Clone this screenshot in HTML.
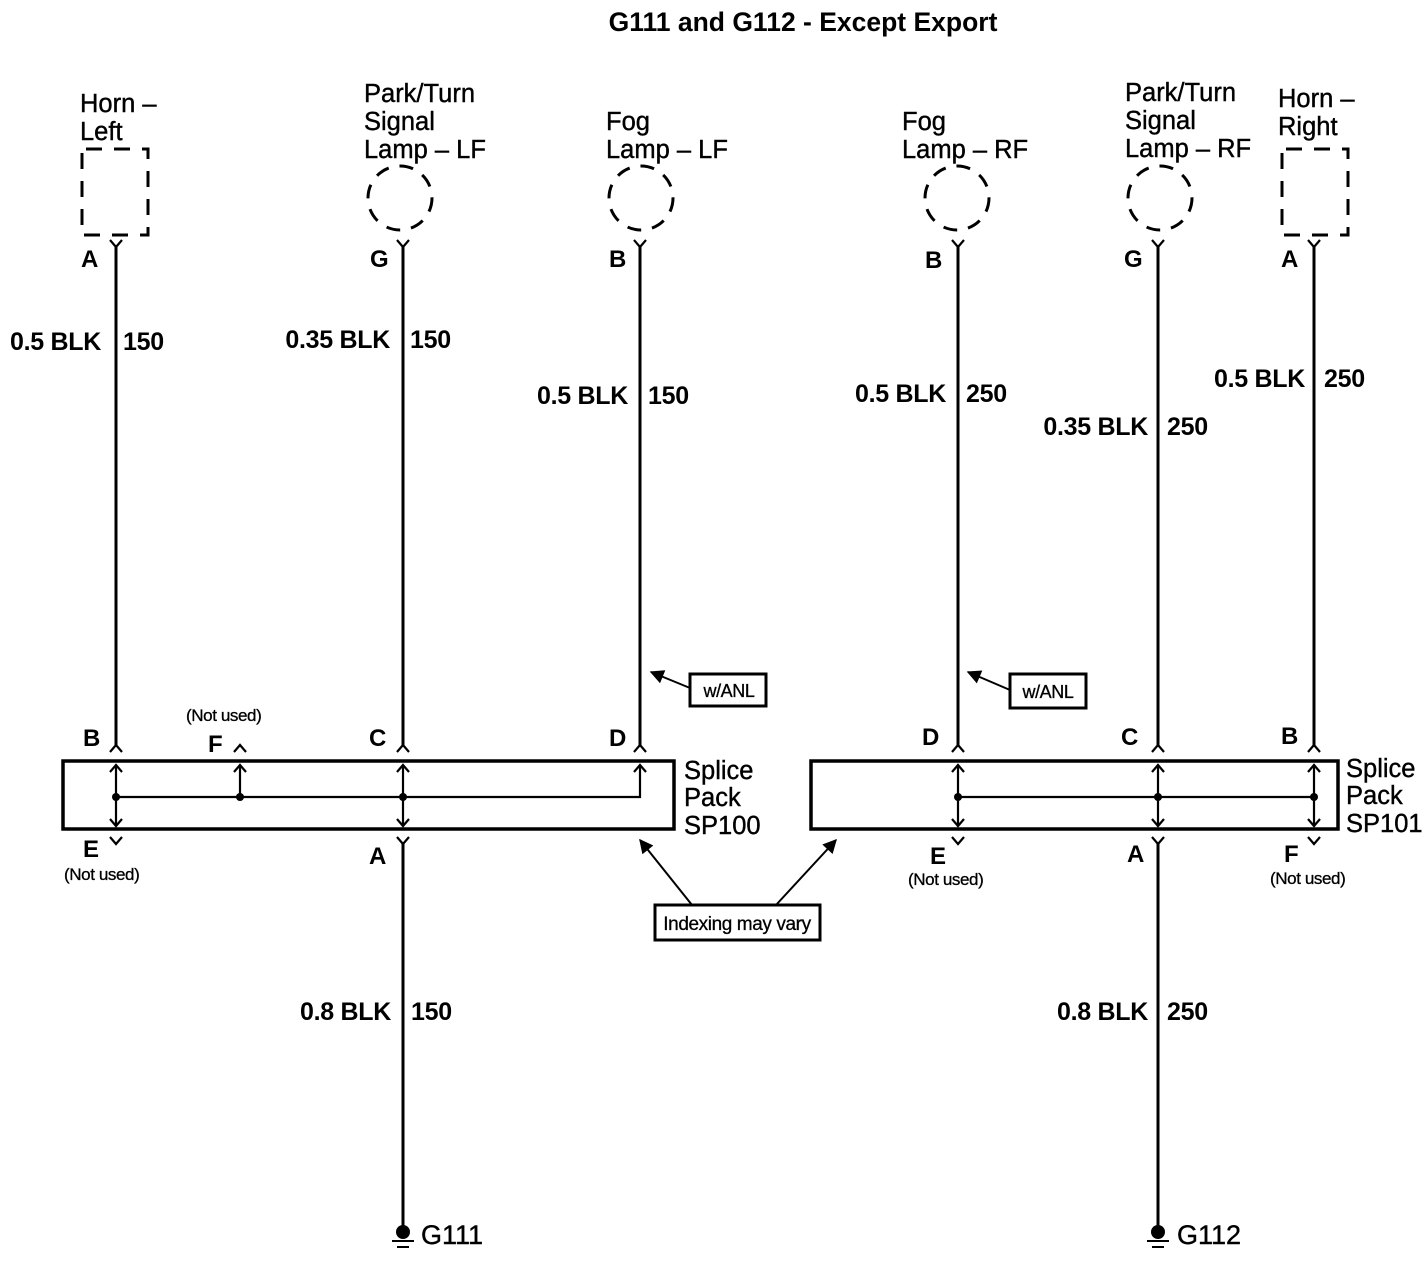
<!DOCTYPE html>
<html><head><meta charset="utf-8"><style>
html,body{margin:0;padding:0;background:#fff}
svg{display:block}
text{font-family:"Liberation Sans",Arial,sans-serif;fill:#000}
.t{font-size:25.5px;stroke:#000;stroke-width:0.4}
.w{font-size:25px;font-weight:bold;letter-spacing:-0.3px}
.p{font-size:24px;font-weight:bold}
.s{font-size:17px;letter-spacing:-0.4px;stroke:#000;stroke-width:0.3}
</style></head><body>
<svg width="1422" height="1280" viewBox="0 0 1422 1280" xmlns="http://www.w3.org/2000/svg">
<defs>
<marker id="big" viewBox="0 0 10 10" refX="9" refY="5" markerWidth="18" markerHeight="14" markerUnits="userSpaceOnUse" orient="auto"><path d="M0,0 L10,5 L0,10 z" fill="#000"/></marker>
</defs>
<text x="803" y="31" text-anchor="middle" style="font-size:26.5px;font-weight:bold">G111 and G112 - Except Export</text>

<g class="t">
<text x="80" y="112">Horn –</text><text x="80" y="140">Left</text>
<text x="364" y="102">Park/Turn</text><text x="364" y="130">Signal</text><text x="364" y="158">Lamp – LF</text>
<text x="606" y="130">Fog</text><text x="606" y="158">Lamp – LF</text>
<text x="902" y="130">Fog</text><text x="902" y="158">Lamp – RF</text>
<text x="1125" y="101">Park/Turn</text><text x="1125" y="129">Signal</text><text x="1125" y="157">Lamp – RF</text>
<text x="1278" y="107">Horn –</text><text x="1278" y="135">Right</text>
<text x="684" y="779">Splice</text><text x="684" y="806">Pack</text><text x="684" y="834">SP100</text>
<text x="1346" y="777">Splice</text><text x="1346" y="804">Pack</text><text x="1346" y="832">SP101</text>
<text x="421" y="1244" style="font-size:27px">G111</text><text x="1177" y="1244" style="font-size:27px">G112</text>
</g>

<g fill="none" stroke="#000" stroke-width="3" stroke-dasharray="16,12">
<rect x="82" y="149" width="66" height="86" stroke-dashoffset="-4"/>
<rect x="1282" y="149" width="66" height="86" stroke-dashoffset="-4"/>
<circle cx="400" cy="198" r="32" stroke-dasharray="14,11"/>
<circle cx="641" cy="198" r="32" stroke-dasharray="14,11"/>
<circle cx="957" cy="198" r="32" stroke-dasharray="14,11"/>
<circle cx="1160" cy="198" r="32" stroke-dasharray="14,11"/>
</g>

<g stroke="#000" stroke-width="3" fill="none">
<line x1="116" y1="246" x2="116" y2="746"/>
<line x1="403" y1="246" x2="403" y2="746"/>
<line x1="640" y1="246" x2="640" y2="746"/>
<line x1="958" y1="246" x2="958" y2="746"/>
<line x1="1158" y1="246" x2="1158" y2="746"/>
<line x1="1314" y1="246" x2="1314" y2="746"/>
<line x1="403" y1="842" x2="403" y2="1228"/>
<line x1="1158" y1="842" x2="1158" y2="1228"/>
<rect x="63" y="761" width="611" height="68" stroke-width="3.5"/>
<rect x="811" y="761" width="527" height="68" stroke-width="3.5"/>
</g>
<g stroke="#000" stroke-width="2.2" fill="none">
<path d="M110,240 L116,247 L122,240 M397,240 L403,247 L409,240 M634,240 L640,247 L646,240 M952,240 L958,247 L964,240 M1152,240 L1158,247 L1164,240 M1308,240 L1314,247 L1320,240"/>
<path d="M110,752 L116,745 L122,752 M234,752 L240,745 L246,752 M397,752 L403,745 L409,752 M634,752 L640,745 L646,752 M952,752 L958,745 L964,752 M1152,752 L1158,745 L1164,752 M1308,752 L1314,745 L1320,752"/>
<path d="M110,837 L116,844 L122,837 M397,837 L403,844 L409,837 M952,837 L958,844 L964,837 M1152,837 L1158,844 L1164,837 M1308,837 L1314,844 L1320,837"/>
<line x1="116" y1="766" x2="116" y2="826"/>
<line x1="240" y1="766" x2="240" y2="797"/>
<line x1="403" y1="766" x2="403" y2="826"/>
<path d="M116,797 L640,797 L640,766"/>
<line x1="958" y1="766" x2="958" y2="826"/>
<line x1="1158" y1="766" x2="1158" y2="826"/>
<line x1="1314" y1="766" x2="1314" y2="826"/>
<line x1="958" y1="797" x2="1314" y2="797"/>
<path d="M110,772 L116,765 L122,772 M234,772 L240,765 L246,772 M397,772 L403,765 L409,772 M634,772 L640,765 L646,772 M952,772 L958,765 L964,772 M1152,772 L1158,765 L1164,772 M1308,772 L1314,765 L1320,772"/>
<path d="M110,819 L116,826 L122,819 M397,819 L403,826 L409,819 M952,819 L958,826 L964,819 M1152,819 L1158,826 L1164,819 M1308,819 L1314,826 L1320,819"/>
</g>
<g fill="#000">
<circle cx="116" cy="797" r="4"/><circle cx="240" cy="797" r="4"/><circle cx="403" cy="797" r="4"/>
<circle cx="958" cy="797" r="4"/><circle cx="1158" cy="797" r="4"/><circle cx="1314" cy="797" r="4"/>
<circle cx="403" cy="1232" r="7"/><circle cx="1158" cy="1232" r="7"/>
</g>
<g stroke="#000" stroke-width="2">
<line x1="392" y1="1241" x2="414" y2="1241"/><line x1="397" y1="1247" x2="409" y2="1247"/>
<line x1="1147" y1="1241" x2="1169" y2="1241"/><line x1="1152" y1="1247" x2="1164" y2="1247"/>
</g>

<g stroke="#000" stroke-width="3" fill="#fff">
<rect x="690" y="674" width="76" height="32"/>
<rect x="1010" y="674" width="76" height="34"/>
<rect x="655" y="905" width="165" height="35"/>
</g>
<g stroke="#000" stroke-width="2">
<line x1="690" y1="688" x2="651" y2="672" marker-end="url(#big)"/>
<line x1="1010" y1="690" x2="968" y2="672" marker-end="url(#big)"/>
<line x1="692" y1="905" x2="640" y2="840" marker-end="url(#big)"/>
<line x1="776" y1="905" x2="836" y2="840" marker-end="url(#big)"/>
</g>
<text x="729" y="697" text-anchor="middle" class="s" style="font-size:18px">w/ANL</text>
<text x="1048" y="698" text-anchor="middle" class="s" style="font-size:18px">w/ANL</text>
<text x="737" y="930" text-anchor="middle" class="s" style="font-size:19px">Indexing may vary</text>

<g class="p">
<text x="81" y="267">A</text><text x="370" y="267">G</text><text x="609" y="267">B</text>
<text x="925" y="268">B</text><text x="1124" y="267">G</text><text x="1281" y="267">A</text>
<text x="83" y="746">B</text><text x="208" y="752">F</text><text x="369" y="746">C</text><text x="609" y="746">D</text>
<text x="922" y="745">D</text><text x="1121" y="745">C</text><text x="1281" y="744">B</text>
<text x="83" y="857">E</text><text x="369" y="864">A</text>
<text x="930" y="864">E</text><text x="1127" y="862">A</text><text x="1284" y="862">F</text>
</g>
<g class="s">
<text x="186" y="721">(Not used)</text>
<text x="64" y="880">(Not used)</text>
<text x="908" y="885">(Not used)</text>
<text x="1270" y="884">(Not used)</text>
</g>

<g class="w">
<text x="101" y="350" text-anchor="end">0.5 BLK</text><text x="123" y="350">150</text>
<text x="390" y="348" text-anchor="end">0.35 BLK</text><text x="410" y="348">150</text>
<text x="628" y="404" text-anchor="end">0.5 BLK</text><text x="648" y="404">150</text>
<text x="946" y="402" text-anchor="end">0.5 BLK</text><text x="966" y="402">250</text>
<text x="1148" y="435" text-anchor="end">0.35 BLK</text><text x="1167" y="435">250</text>
<text x="1305" y="387" text-anchor="end">0.5 BLK</text><text x="1324" y="387">250</text>
<text x="391" y="1020" text-anchor="end">0.8 BLK</text><text x="411" y="1020">150</text>
<text x="1148" y="1020" text-anchor="end">0.8 BLK</text><text x="1167" y="1020">250</text>
</g>
</svg>
</body></html>
